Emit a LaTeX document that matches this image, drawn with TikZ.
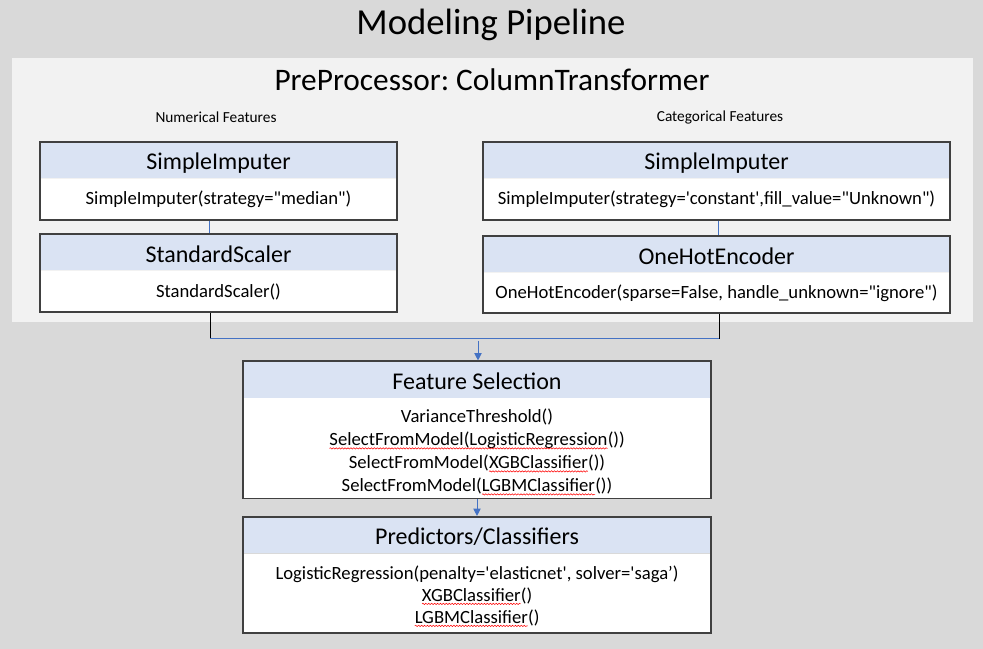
\documentclass[tikz,border=0pt]{standalone}
\usepackage{fontspec}
\setmainfont{Carlito}
\usetikzlibrary{arrows.meta, positioning, fit, decorations.pathmorphing}
\definecolor{cback}{HTML}{D9D9D9}
\definecolor{cpanel}{HTML}{F2F2F2}
\definecolor{chead}{HTML}{DAE3F3}
\definecolor{cframe}{HTML}{404040}
\definecolor{clink}{HTML}{4472C4}
\newcommand{\dq}{\textquotedbl}
\newcommand{\sq}{\textquotesingle}
% spell-check underline
\newcommand{\wavy}[1]{\tikz[baseline=(w.base)]{\node[plain] (w) {#1};
  \draw[squig] ([yshift=-2pt]w.base west) -- ([yshift=-2pt]w.base east);}}
\frenchspacing
\tikzset{
  every picture/.style={x=0.75pt, y=-0.75pt},
  head/.style={fill=chead, minimum width=#1, minimum height=27pt, inner sep=0pt, text height=14.6pt, text depth=0pt, font=\fontsize{18}{21}\selectfont},
  body/.style={fill=white, minimum width=#1, inner sep=0pt, align=center, font=\fontsize{14}{17.25}\selectfont},
  frame/.style={draw=cframe, line width=1.2pt, inner sep=0pt},
  link/.style={draw=clink, line width=0.75pt},
  stem/.style={draw=black, line width=0.75pt},
  arrow/.style={link, -{Triangle[length=5.5pt, width=5.5pt]}},
  side/.style={font=\fontsize{11.5}{14}\selectfont},
  plain/.style={inner sep=0pt, outer sep=0pt, minimum width=0pt, minimum height=0pt, text height=, text depth=, fill=none, draw=none},
  squig/.style={red, line width=0.4pt, decorate, decoration={snake, amplitude=0.5pt, segment length=2.2pt}},
}
\begin{document}
\begin{tikzpicture}
  \fill[cback] (0,0) rectangle (983,649);
  \fill[cpanel] (12,58) rectangle (973,322);
  \node[font=\fontsize{27.5}{30}\selectfont] (title) at (491,25) {Modeling Pipeline};
  \node[font=\fontsize{23.5}{28}\selectfont] (pre) at (492,80) {PreProcessor: ColumnTransformer};
  \node[side] (num) at (216,117) {Numerical Features};
  \node[side] (cat) at (720,117) {Categorical Features};
  % numerical features
  \node[head=267.75pt] (nh1) at (218.5,160) {SimpleImputer};
  \node[body=267.75pt, minimum height=30.75pt, below=0pt of nh1] (nb1) {SimpleImputer(strategy=\dq median\dq)};
  \node[frame, fit=(nh1)(nb1)] (n1) {};
  \node[head=267.75pt] (nh2) at (218.5,252.5) {StandardScaler};
  \node[body=267.75pt, minimum height=30.75pt, below=0pt of nh2] (nb2) {StandardScaler()};
  \node[frame, fit=(nh2)(nb2)] (n2) {};
  % categorical features
  \node[head=350.25pt] (ch1) at (716.5,160) {SimpleImputer};
  \node[body=350.25pt, minimum height=30.75pt, below=0pt of ch1] (cb1) {SimpleImputer(strategy=\sq constant\sq,fill\_value=\dq Unknown\dq)};
  \node[frame, fit=(ch1)(cb1)] (c1) {};
  \node[head=350.25pt] (ch2) at (716.5,254.5) {OneHotEncoder};
  \node[body=350.25pt, minimum height=30pt, below=0pt of ch2] (cb2) {OneHotEncoder(sparse=False, handle\_unknown=\dq ignore\dq)};
  \node[frame, fit=(ch2)(cb2)] (c2) {};
  % feature selection
  \node[head=351pt] (fh) at (477,379.5) {Feature Selection};
  \node[body=351pt, minimum height=75pt, below=0pt of fh, font=\fontsize{14}{17.25}\selectfont] (fb) {\rule{0pt}{16.5pt}VarianceThreshold()\\\wavy{SelectFromModel(LogisticRegression}())\\SelectFromModel(\wavy{XGBClassifier}())\\SelectFromModel(\wavy{LGBMClassifier}())};
  \node[frame, fit=(fh)(fb)] (fs) {};
  % predictors
  \node[head=351pt] (ph) at (477,535) {Predictors/Classifiers};
  \node[body=351pt, minimum height=59.25pt, below=0pt of ph, font=\fontsize{14}{16.5}\selectfont] (pb) {\rule{0pt}{15pt}LogisticRegression(penalty=\sq elasticnet\sq, solver=\sq saga’)\\\wavy{XGBClassifier}()\\\wavy{LGBMClassifier}()};
  \node[frame, fit=(ph)(pb)] (pr) {};
  % connectors
  \draw[link] ([xshift=-6.4pt]n1.south) -- ([xshift=-6.4pt]n2.north);
  \draw[link] ([xshift=1.5pt]c1.south) -- ([xshift=1.5pt]c2.north);
  \coordinate (jn) at (478,339);
  \coordinate (jl) at (210,339);
  \coordinate (jr) at (719,339);
  \draw[stem] (n2.south -| jl) -- (jl);
  \draw[stem] (c2.south -| jr) -- (jr);
  \draw[link] (jl) -- (jr);
  \draw[arrow] ([yshift=-1.5pt]jn) -- (jn |- fs.north);
  \draw[arrow] (fs) -- (pr);
\end{tikzpicture}
\end{document}
